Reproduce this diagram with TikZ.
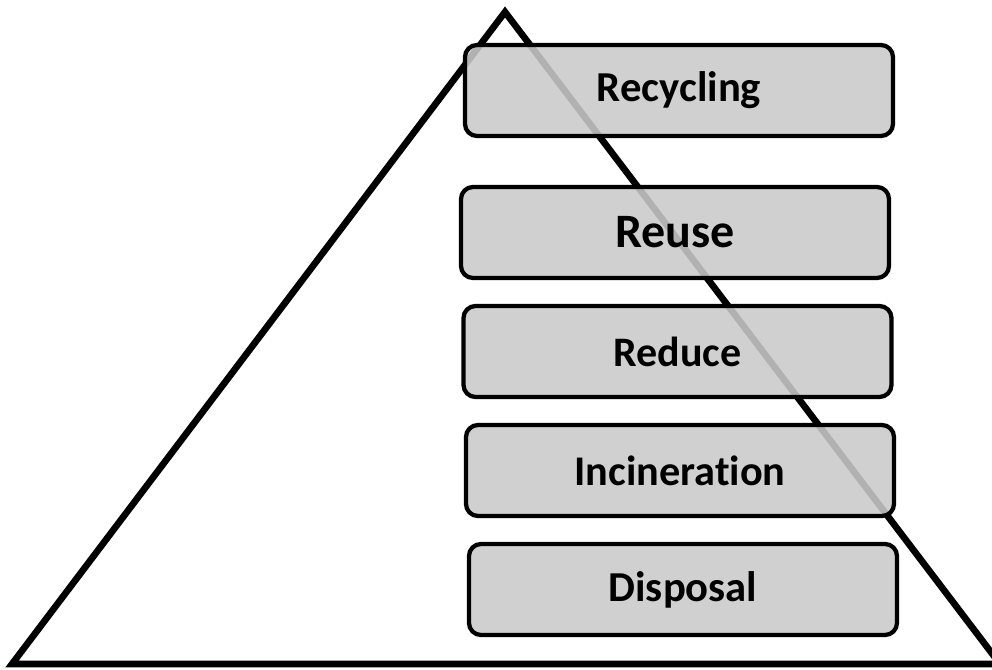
\documentclass[tikz,border=0pt]{standalone}
\usepackage{fontspec}
\setmainfont[Ligatures=NoCommon]{Carlito}
\begin{document}
\begin{tikzpicture}[x=0.75pt,y=-0.75pt,
  level/.style={draw=black,line width=3.2pt,rounded corners=9pt,fill=boxgray,fill opacity=0.88,text opacity=1,
    minimum width=428*0.75pt,minimum height=91*0.75pt,inner sep=0pt},
  edge/.style={draw=black,line width=5pt,line join=miter}]
\definecolor{boxgray}{RGB}{202,202,202}
\useasboundingbox (0,0) rectangle (992,670);
\clip (0,0) rectangle (992,670);
\coordinate (L) at (12,664);
\coordinate (T) at (505,12);
\coordinate (R) at (1000,664);
\draw[edge] (L) -- (T) -- (R) -- cycle;
\node[level,font=\fontsize{32}{38}\selectfont\bfseries] (rec) at (679,90.5) {Recycling};
\node[level,font=\fontsize{36}{42}\selectfont\bfseries] (reu) at (675,232.5) {Reuse};
\node[level,font=\fontsize{31.5}{37}\selectfont\bfseries] (red) at (677.5,351.5) {Reduce};
\node[level,font=\fontsize{31.7}{37}\selectfont\bfseries] (inc) at (680,470.5) {Incineration};
\node[level,font=\fontsize{32}{38}\selectfont\bfseries] (dis) at (683,589.5) {Disposal};
\end{tikzpicture}
\end{document}
